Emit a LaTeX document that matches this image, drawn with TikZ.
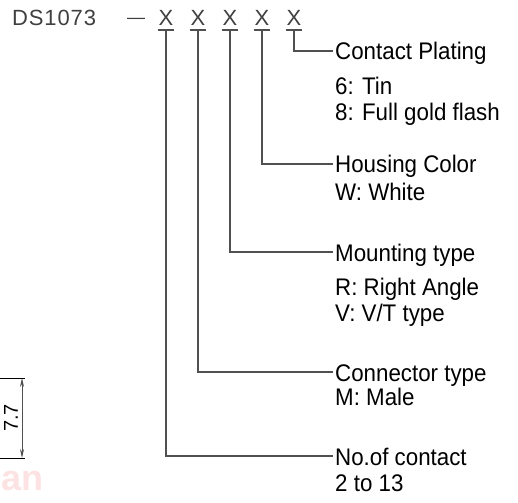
\documentclass[tikz,border=0pt]{standalone}
\usepackage{fontspec}
\setmainfont{Liberation Sans}
\newfontfamily\lblfont[FakeStretch=0.93]{Liberation Sans}
\newfontfamily\hdrfont[LetterSpace=4]{Liberation Sans}
\usetikzlibrary{arrows.meta}
\definecolor{linegray}{HTML}{505050}
\definecolor{hdrgray}{HTML}{404040}
\definecolor{wmark}{HTML}{FCE2E2}
\begin{document}
\begin{tikzpicture}[x=1pt,y=-1pt,
  lbl/.style={anchor=base west,inner sep=0pt,font=\lblfont\fontsize{24}{28}\selectfont,text=black},
  hdr/.style={anchor=base,inner sep=0pt,font=\hdrfont\fontsize{22}{26}\selectfont,text=hdrgray},
  conn/.style={draw=linegray,line width=1.1pt},
  uline/.style={draw=linegray,line width=1.1pt}]
\useasboundingbox (0,0) rectangle (518,502);
% watermark
\node[anchor=base west,inner sep=0pt,font=\bfseries\fontsize{36}{40}\selectfont,text=wmark] (wm) at (1,490) {an};
% header
\node[anchor=base west,inner sep=0pt,font=\hdrfont\fontsize{22}{26}\selectfont,text=hdrgray] (ds) at (12,26) {DS1073};
\node[inner sep=0pt,anchor=base,font=\fontsize{18}{22}\selectfont,text=hdrgray] (dash) at (136,24) {\textemdash};
\foreach \i/\x in {1/166,2/198,3/230,4/262,5/294}{
  \node[hdr] (x\i) at (\x,26) {X};
  \coordinate (u\i) at (\x,30);
  \draw[uline] (\x-8,30) -- (\x+8,30);
}
% label anchors
\coordinate (c5) at (333,51);
\coordinate (c4) at (333,164);
\coordinate (c3) at (333,252);
\coordinate (c2) at (333,372);
\coordinate (c1) at (333,456);
\draw[conn] (u5) |- (c5);
\draw[conn] (u4) |- (c4);
\draw[conn] (u3) |- (c3);
\draw[conn] (u2) |- (c2);
\draw[conn] (u1) |- (c1);
% labels
\node[lbl] (h5) at (335,60) {Contact Plating};
\node[lbl] (h5a) at (335,95) {6: Tin};
\node[lbl] (h5b) at (335,121) {8: Full gold flash};
\node[lbl] (h4) at (335,173) {Housing Color};
\node[lbl] (h4a) at (335,201) {W: White};
\node[lbl] (h3) at (335,261) {Mounting type};
\node[lbl] (h3a) at (335,295) {R: Right Angle};
\node[lbl] (h3b) at (335,321) {V: V/T type};
\node[lbl] (h2) at (335,381) {Connector type};
\node[lbl] (h2a) at (335,405) {M: Male};
\node[lbl] (h1) at (335,465) {No.of contact};
\node[lbl] (h1a) at (335,491) {2 to 13};
% dimension
\coordinate (d1) at (22,378);
\coordinate (d2) at (22,458);
\draw[black,line width=0.9pt] (0,378) -- (25,378);
\draw[black,line width=0.9pt] (0,458) -- (25,458);
\draw[linegray,line width=0.9pt,{Stealth[length=9pt,width=4pt]}-{Stealth[length=9pt,width=4pt]}] (d1) -- (d2);
\node[rotate=90,inner sep=0pt,font=\fontsize{20}{24}\selectfont] (dim) at (11,418) {7.7};
\end{tikzpicture}
\end{document}
